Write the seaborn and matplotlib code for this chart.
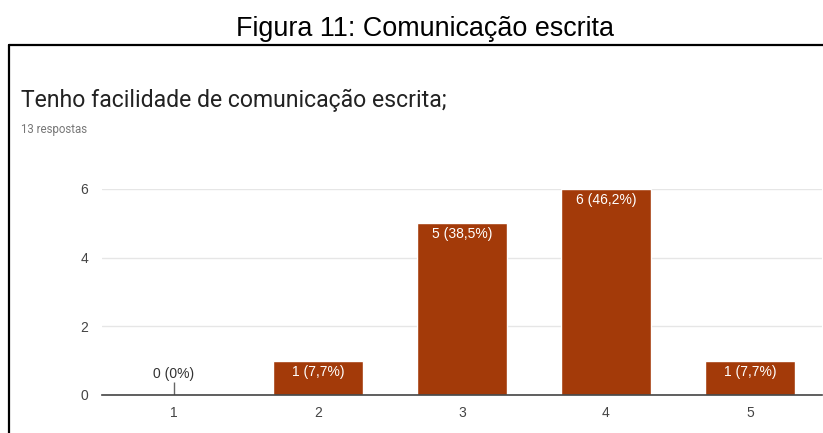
import matplotlib
matplotlib.use("Agg")
import matplotlib.pyplot as plt
import seaborn as sns
import pandas as pd
from matplotlib.lines import Line2D

categories = ["1", "2", "3", "4", "5"]
counts = [0, 1, 5, 6, 1]
total = 13
yticks = [0, 2, 4, 6]

fig_title = "Figura 11: Comunicação escrita"
question = "Tenho facilidade de comunicação escrita;"
subtitle = "13 respostas"

sns.set_theme(style="white")
plt.rcParams["font.family"] = ["Liberation Sans", "DejaVu Sans"]

W, H = 823, 433
fig = plt.figure(figsize=(W / 100, H / 100), dpi=100)
fig.patch.set_facecolor("white")

# axes placement in pixels
left, right, top, bottom = 102, 822, 189, 395
ax = fig.add_axes([left / W, 1 - bottom / H, (right - left) / W, (bottom - top) / H])

df = pd.DataFrame({"cat": categories, "n": counts})
bar_color = "#a33a09"
sns.barplot(data=df, x="cat", y="n", color=bar_color, width=0.62, saturation=1,
            ax=ax, zorder=2)

ax.set_xlim(-0.5, len(categories) - 0.5)
ax.set_ylim(0, 6)
ax.set_yticks(yticks)
ax.set_xlabel("")
ax.set_ylabel("")
ax.grid(axis="y", color="#e6e6e6", linewidth=1, zorder=0)
ax.grid(axis="x", visible=False)
for s in ["top", "right", "left"]:
    ax.spines[s].set_visible(False)
ax.spines["bottom"].set_color("#444444")
ax.spines["bottom"].set_linewidth(1.2)
ax.spines["bottom"].set_zorder(3)
ax.tick_params(axis="both", length=0, labelsize=10, colors="#444444")
ax.tick_params(axis="x", pad=8)
ax.tick_params(axis="y", pad=10)

for i, c in enumerate(counts):
    pct = c / total * 100
    pct_s = ("%.1f" % pct).replace(".", ",")
    if pct_s.endswith(",0"):
        pct_s = pct_s[:-2]
    label = f"{c} ({pct_s}%)"
    if c == 0:
        ax.vlines(i, 0, 0.38, color="#666666", linewidth=1, zorder=3)
        ax.annotate(label, (i, 0), xytext=(0, 10), textcoords="offset points",
                    ha="center", va="bottom", fontsize=10, color="#333333")
    else:
        ax.annotate(label, (i, c), xytext=(0, -3), textcoords="offset points",
                    ha="center", va="top", fontsize=10, color="white", zorder=4)

# texts
fig.text(425 / W, 1 - 29 / H, fig_title, ha="center", va="center",
         fontsize=19.4, color="black", family=["Liberation Sans", "DejaVu Sans"])
fig.text(21 / W, 1 - 100 / H, question, ha="left", va="center",
         fontsize=16.6, color="#222222", family=["Roboto", "DejaVu Sans"])
fig.text(21 / W, 1 - 130 / H, subtitle, ha="left", va="center",
         fontsize=8.3, color="#777777", family=["Roboto", "DejaVu Sans"])

# box border
fig.add_artist(Line2D([9 / W, 1.0], [1 - 45 / H, 1 - 45 / H], color="black",
                      linewidth=1.6, transform=fig.transFigure))
fig.add_artist(Line2D([9 / W, 9 / W], [1 - 45 / H, 0.0], color="black",
                      linewidth=1.6, transform=fig.transFigure))

fig.savefig("out.png", dpi=100)
